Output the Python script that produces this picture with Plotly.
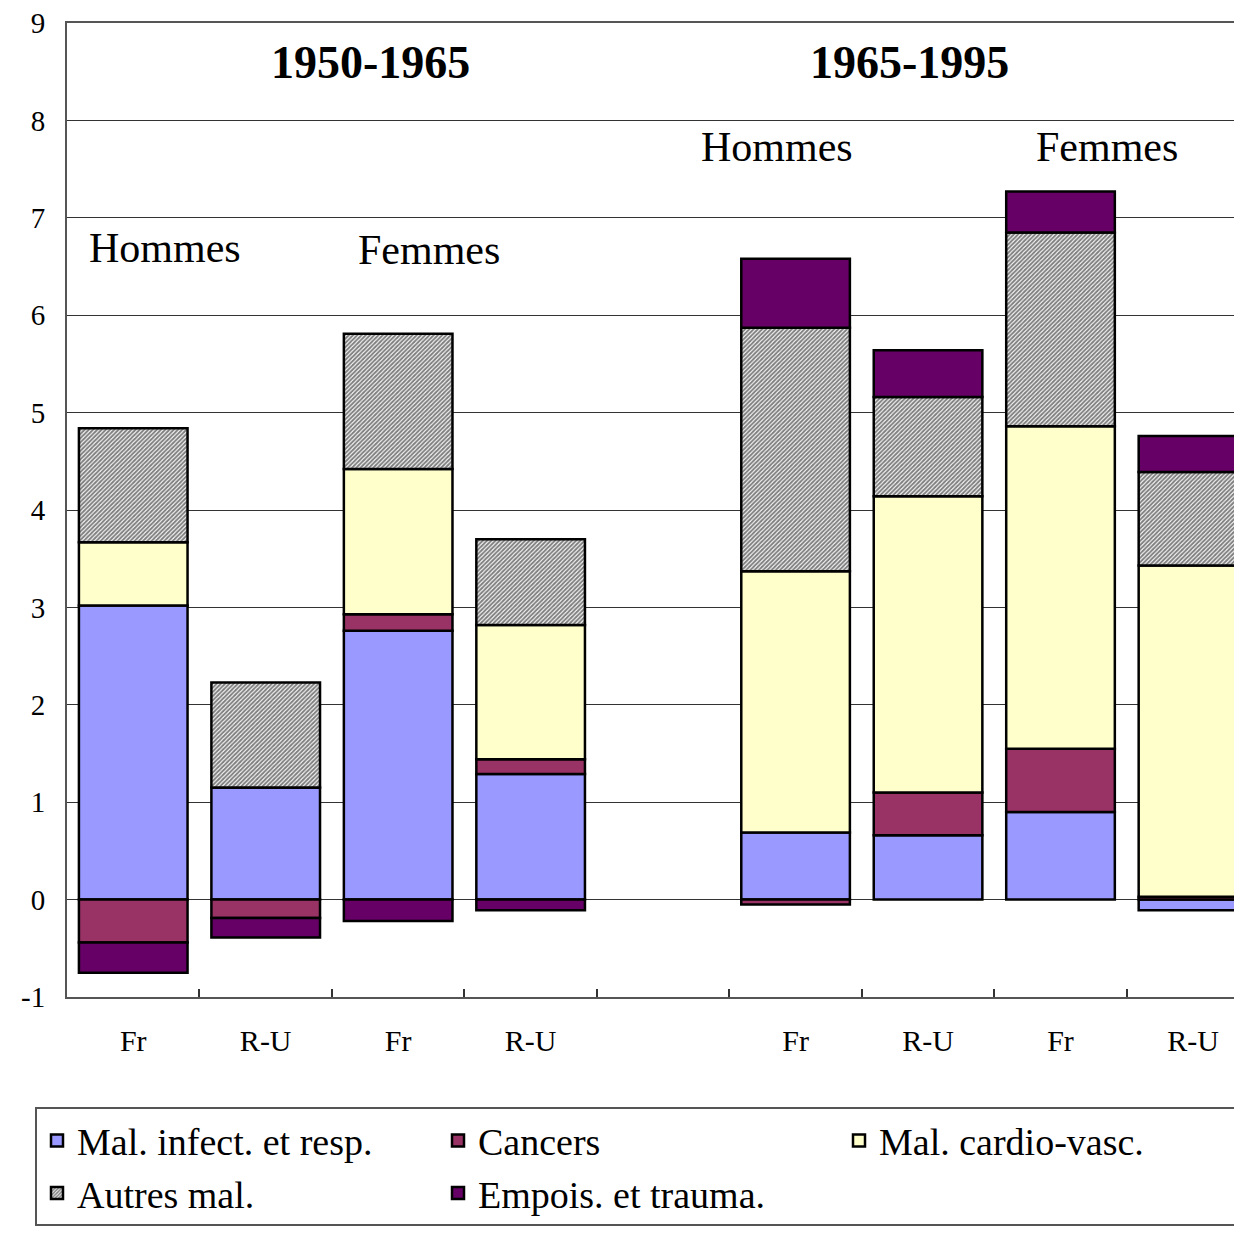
import plotly.graph_objects as go

# Categories (slot 4 is the empty gap between periods)
labels = ['Fr', 'R-U', 'Fr', 'R-U', '', 'Fr', 'R-U', 'Fr', 'R-U']
slots = list(range(len(labels)))

# Contributions by cause
infect = [3.02, 1.15, 2.76, 1.29, None, 0.69, 0.66, 0.90, -0.11]
cancers = [-0.44, -0.19, 0.17, 0.15, None, -0.05, 0.44, 0.65, 0.03]
cardio = [0.65, 0.0, 1.49, 1.38, None, 2.68, 3.04, 3.31, 3.40]
autres = [1.17, 1.08, 1.39, 0.88, None, 2.50, 1.02, 1.99, 0.96]
empois = [-0.31, -0.20, -0.22, -0.11, None, 0.71, 0.48, 0.42, 0.37]

# y ticks with a plain hyphen for the minus sign
y_ticks = list(range(-1, 10))
y_labels = [str(v) for v in y_ticks]

series = [
    ('Mal. infect. et resp.', infect, '#9999FF', None),
    ('Cancers', cancers, '#993366', None),
    ('Mal. cardio-vasc.', cardio, '#FFFFCC', None),
    ('Autres mal.', autres, '#FFFFFF', 'hatch'),
    ('Empois. et trauma.', empois, '#660066', None),
]
legend_order = ['Mal. infect. et resp.', 'Cancers', 'Mal. cardio-vasc.',
                'Autres mal.', 'Empois. et trauma.']

FONT = 'Liberation Serif, Times New Roman, serif'

fig = go.Figure()
for name, vals, color, pat in series:
    marker = {'color': color, 'line': {'color': 'black', 'width': 2.5}}
    if pat:
        marker['pattern'] = {'shape': '/', 'size': 3, 'solidity': 0.65,
                             'fgcolor': '#000000', 'bgcolor': '#FFFFFF'}
    fig.add_trace(go.Bar(x=slots, y=vals, name=name, marker=marker,
                         width=0.82, legendrank=legend_order.index(name)))

# Period titles and sex labels
notes = [
    ('<b>1950-1965</b>', 1.79, 8.59, 46),
    ('<b>1965-1995</b>', 5.86, 8.59, 46),
    ('Hommes', 0.24, 6.69, 42),
    ('Femmes', 2.23, 6.67, 42),
    ('Hommes', 4.86, 7.73, 42),
    ('Femmes', 7.35, 7.73, 42),
]
for txt, x, y, size in notes:
    fig.add_annotation(x=x, y=y, text=txt, showarrow=False,
                       font={'family': FONT, 'size': size, 'color': 'black'})

# page body has an 8px margin, so the figure is 8px narrower/shorter
fig.update_layout(
    width=1234, height=1227,
    margin={'l': 59, 'r': 0, 't': 14.5, 'b': 237.5},
    barmode='relative',
    plot_bgcolor='white',
    paper_bgcolor='white',
    font={'family': FONT, 'color': 'black'},
    legend={'orientation': 'h',
            'x': -0.018, 'xanchor': 'left',
            'y': -0.1133, 'yanchor': 'top',
            'entrywidth': 356,
            'traceorder': 'normal',
            'font': {'family': FONT, 'size': 38, 'color': 'black'},
            'bordercolor': '#555555', 'borderwidth': 2,
            'bgcolor': 'white'},
)

fig.update_xaxes(range=[-0.5, 8.37],
                 tickvals=slots, ticktext=labels, ticks='',
                 tickfont={'family': FONT, 'size': 30},
                 ticklabelstandoff=16,
                 minor={'tickvals': [s + 0.5 for s in slots[:-1]],
                        'ticks': 'inside', 'ticklen': 8,
                        'tickcolor': '#333333', 'tickwidth': 1.5},
                 showgrid=False, zeroline=False,
                 showline=True, mirror=True,
                 linecolor='#555555', linewidth=2)

fig.update_yaxes(range=[-1, 9], tickvals=y_ticks, ticktext=y_labels,
                 tickfont={'family': FONT, 'size': 29},
                 ticklabelstandoff=14, ticklabeloverflow='allow',
                 showgrid=True, gridcolor='#333333', gridwidth=1.2,
                 zeroline=False,
                 showline=True, linecolor='#555555', linewidth=2)

fig.write_html('out.html')
